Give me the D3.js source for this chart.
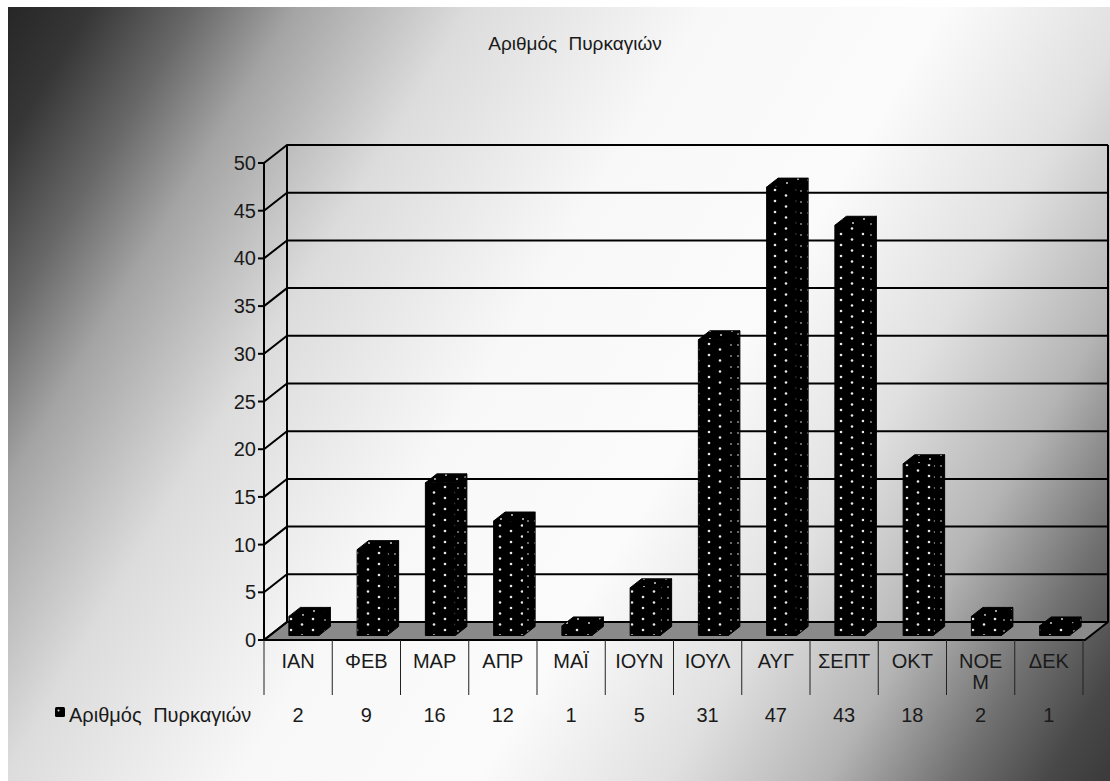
<!DOCTYPE html>
<html>
<head>
<meta charset="utf-8">
<script src="https://cdn.jsdelivr.net/npm/d3@7"></script>
<style>
  html, body { margin: 0; padding: 0; background: #fff; }
  svg { display: block; }
  text { font-family: "Liberation Sans", Arial, sans-serif; fill: #1a1a1a; }
</style>
</head>
<body>
<svg id="chart" width="1110" height="781"></svg>
<script>
// Monthly number of fires
const title = "Αριθμός Πυρκαγιών";
const seriesName = "Αριθμός Πυρκαγιών";
const months = ["ΙΑΝ", "ΦΕΒ", "ΜΑΡ", "ΑΠΡ", "ΜΑΪ", "ΙΟΥΝ", "ΙΟΥΛ", "ΑΥΓ", "ΣΕΠΤ", "ΟΚΤ", "ΝΟΕΜ", "ΔΕΚ"];
const monthLines = [["ΙΑΝ"], ["ΦΕΒ"], ["ΜΑΡ"], ["ΑΠΡ"], ["ΜΑΪ"], ["ΙΟΥΝ"], ["ΙΟΥΛ"], ["ΑΥΓ"], ["ΣΕΠΤ"], ["ΟΚΤ"], ["ΝΟΕ", "Μ"], ["ΔΕΚ"]];
const fires = [2, 9, 16, 12, 1, 5, 31, 47, 43, 18, 2, 1];
const yTicks = [0, 5, 10, 15, 20, 25, 30, 35, 40, 45, 50];

const W = 1110, H = 781;
const FS = 20;
const svg = d3.select("#chart");
const defs = svg.append("defs");

// Background: diagonal dark-light-dark sweep with a thin white frame
const bg = defs.append("linearGradient").attr("id", "bg")
  .attr("gradientUnits", "userSpaceOnUse")
  .attr("x1", 0).attr("y1", 0).attr("x2", 1158).attr("y2", 702);
[[0, "#242424"], [0.06, "#363636"], [0.126, "#686868"], [0.19, "#a4a4a4"], [0.3, "#dcdcdc"],
 [0.45, "#f8f8f8"], [0.6, "#fbfbfb"], [0.72, "#e0e0e0"], [0.82, "#b4b4b4"], [0.9, "#717171"],
 [0.96, "#484848"], [1, "#3a3a3a"]].forEach(([o, c]) =>
  bg.append("stop").attr("offset", o).attr("stop-color", c));

svg.append("rect").attr("width", W).attr("height", H).attr("fill", "#fff");
svg.append("rect").attr("x", 8).attr("y", 7).attr("width", W - 8).attr("height", H - 7).attr("fill", "url(#bg)");

// Dotted fills for the bar faces
function dotPattern(id, w, h, dots, r, color) {
  const p = defs.append("pattern").attr("id", id).attr("patternUnits", "userSpaceOnUse")
    .attr("width", w).attr("height", h);
  p.append("rect").attr("width", w).attr("height", h).attr("fill", "#000");
  dots.forEach(([cx, cy]) => p.append("circle").attr("cx", cx).attr("cy", cy).attr("r", r).attr("fill", color));
}
dotPattern("dotsFront", 22, 11, [[5, 3], [16, 8.5]], 1.3, "#e8e8e8");
dotPattern("dotsSide", 7, 11, [[3, 4]], 0.9, "#9a9a9a");
dotPattern("dotsTop", 22, 8, [[6, 3], [17, 7]], 1.0, "#cfcfcf");

// Plot geometry (front plane + depth offset)
const x0 = 264, x1 = 1083;
const DX = 23, DY = 18;
const x = d3.scaleBand().domain(months).range([x0, x1]).padding(0);
const y = d3.scaleLinear().domain([0, 50]).range([640, 163]);
const P = (px, v, z) => [px + z * DX, y(v) - z * DY];

const g = svg.append("g");

// Floor
const floor = [P(x0, 0, 0), P(x1 + 2, 0, 0), P(x1 + 2, 0, 1), P(x0, 0, 1)];
g.append("polygon").attr("points", floor.map(p => p.join(",")).join(" "))
  .attr("fill", "#8a8a8a").attr("stroke", "#000").attr("stroke-width", 2).attr("stroke-linejoin", "round");

// Gridlines on the back wall and the left side wall
yTicks.forEach(t => {
  const a = P(x0, t, 0), b = P(x0, t, 1), c = P(x1 + 2, t, 1);
  g.append("path").attr("d", `M${a[0]},${a[1]}L${b[0]},${b[1]}L${c[0]},${c[1]}`)
    .attr("fill", "none").attr("stroke", "#000").attr("stroke-width", 2);
});
// Back wall vertical edges
[[x0, 1], [x1 + 2, 1]].forEach(([px, z]) => {
  const a = P(px, 0, z), b = P(px, 50, z);
  g.append("line").attr("x1", a[0]).attr("y1", a[1]).attr("x2", b[0]).attr("y2", b[1])
    .attr("stroke", "#000").attr("stroke-width", 2);
});

// Value axis (front)
g.append("line").attr("x1", x0).attr("x2", x0).attr("y1", y(0)).attr("y2", y(50))
  .attr("stroke", "#000").attr("stroke-width", 2);
yTicks.forEach(t => {
  g.append("line").attr("x1", x0 - 6).attr("x2", x0).attr("y1", y(t)).attr("y2", y(t))
    .attr("stroke", "#000").attr("stroke-width", 2);
  g.append("text").attr("x", x0 - 8).attr("y", y(t) + 7).attr("text-anchor", "end")
    .attr("font-size", FS).text(t);
});

// 3D columns
const zA = 0.25, zB = 0.75, barW = 30;
const pts = arr => arr.map(p => p.join(",")).join(" ");
months.forEach((m, i) => {
  const v = fires[i];
  const cx = x(m) + x.bandwidth() / 2;
  const xl = cx - barW / 2, xr = cx + barW / 2;
  const bar = g.append("g");
  const front = [P(xl, v, zA), P(xr, v, zA), P(xr, 0, zA), P(xl, 0, zA)];
  const side = [P(xr, v, zA), P(xr, v, zB), P(xr, 0, zB), P(xr, 0, zA)];
  const top = [P(xl, v, zA), P(xr, v, zA), P(xr, v, zB), P(xl, v, zB)];
  bar.append("polygon").attr("points", pts(side)).attr("fill", "url(#dotsSide)")
    .attr("stroke", "#000").attr("stroke-width", 1).attr("stroke-linejoin", "round");
  bar.append("polygon").attr("points", pts(top)).attr("fill", "url(#dotsTop)")
    .attr("stroke", "#000").attr("stroke-width", 1).attr("stroke-linejoin", "round");
  bar.append("polygon").attr("points", pts(front)).attr("fill", "url(#dotsFront)")
    .attr("stroke", "#000").attr("stroke-width", 1).attr("stroke-linejoin", "round");
});

// Data table under the plot
const tblTop = 640, tblBot = 695;
const bounds = months.map(m => x(m)).concat([x1]);
bounds.forEach(bx => {
  g.append("line").attr("x1", bx).attr("x2", bx).attr("y1", tblTop).attr("y2", tblBot)
    .attr("stroke", "#222").attr("stroke-width", 1);
});
months.forEach((m, i) => {
  const cx = x(m) + x.bandwidth() / 2;
  monthLines[i].forEach((ln, k) => {
    g.append("text").attr("x", cx).attr("y", 668 + k * 21).attr("text-anchor", "middle")
      .attr("font-size", FS).text(ln);
  });
  g.append("text").attr("x", cx).attr("y", 722).attr("text-anchor", "middle")
    .attr("font-size", FS).text(fires[i]);
});

// Legend key in the table row
g.append("rect").attr("x", 55).attr("y", 707).attr("width", 10).attr("height", 10).attr("rx", 1.5)
  .attr("fill", "#000");
g.append("circle").attr("cx", 58.5).attr("cy", 710.5).attr("r", 1).attr("fill", "#ddd");
g.append("text").attr("x", 69).attr("y", 722).attr("font-size", FS)
  .attr("word-spacing", 6).text(seriesName);

// Title
svg.append("text").attr("x", 575).attr("y", 50).attr("text-anchor", "middle")
  .attr("font-size", 19).attr("word-spacing", 6).text(title);
</script>
</body>
</html>
